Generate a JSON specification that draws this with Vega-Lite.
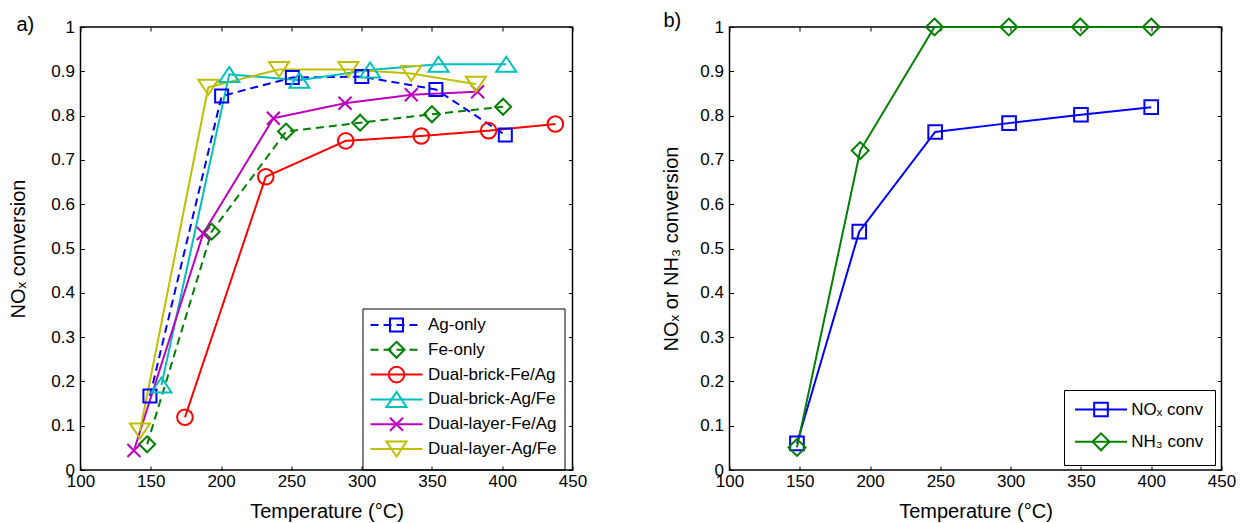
{
  "$schema": "https://vega.github.io/schema/vega-lite/v6.json",
  "padding": {"left": 6.5, "top": 10, "right": 5, "bottom": 5},
  "background": "white",
  "spacing": 157,
  "bounds": "flush",
  "resolve": {"scale": {"color": "independent", "shape": "independent", "strokeDash": "independent"}, "legend": {"color": "independent", "shape": "independent", "strokeDash": "independent"}},
  "datasets": {
    "a": [
      {"series": "Ag-only", "T": 149.4, "conv": 0.167},
      {"series": "Ag-only", "T": 200.4, "conv": 0.844},
      {"series": "Ag-only", "T": 250.7, "conv": 0.886},
      {"series": "Ag-only", "T": 300.1, "conv": 0.888},
      {"series": "Ag-only", "T": 352.8, "conv": 0.859},
      {"series": "Ag-only", "T": 402.2, "conv": 0.756},
      {"series": "Fe-only", "T": 147.4, "conv": 0.058},
      {"series": "Fe-only", "T": 193.3, "conv": 0.538},
      {"series": "Fe-only", "T": 246.2, "conv": 0.764},
      {"series": "Fe-only", "T": 298.9, "conv": 0.784},
      {"series": "Fe-only", "T": 350.0, "conv": 0.803},
      {"series": "Fe-only", "T": 400.6, "conv": 0.820},
      {"series": "Dual-brick-Fe/Ag", "T": 174.3, "conv": 0.119},
      {"series": "Dual-brick-Fe/Ag", "T": 231.8, "conv": 0.662},
      {"series": "Dual-brick-Fe/Ag", "T": 288.7, "conv": 0.743},
      {"series": "Dual-brick-Fe/Ag", "T": 342.4, "conv": 0.754},
      {"series": "Dual-brick-Fe/Ag", "T": 390.3, "conv": 0.766},
      {"series": "Dual-brick-Fe/Ag", "T": 437.8, "conv": 0.781},
      {"series": "Dual-brick-Ag/Fe", "T": 157.6, "conv": 0.192},
      {"series": "Dual-brick-Ag/Fe", "T": 205.8, "conv": 0.893},
      {"series": "Dual-brick-Ag/Fe", "T": 255.7, "conv": 0.880},
      {"series": "Dual-brick-Ag/Fe", "T": 306.0, "conv": 0.903},
      {"series": "Dual-brick-Ag/Fe", "T": 354.7, "conv": 0.916},
      {"series": "Dual-brick-Ag/Fe", "T": 402.9, "conv": 0.916},
      {"series": "Dual-layer-Fe/Ag", "T": 138.0, "conv": 0.044},
      {"series": "Dual-layer-Fe/Ag", "T": 187.3, "conv": 0.534},
      {"series": "Dual-layer-Fe/Ag", "T": 237.2, "conv": 0.794},
      {"series": "Dual-layer-Fe/Ag", "T": 288.2, "conv": 0.828},
      {"series": "Dual-layer-Fe/Ag", "T": 335.3, "conv": 0.847},
      {"series": "Dual-layer-Fe/Ag", "T": 382.5, "conv": 0.854},
      {"series": "Dual-layer-Ag/Fe", "T": 142.3, "conv": 0.088},
      {"series": "Dual-layer-Ag/Fe", "T": 190.9, "conv": 0.864},
      {"series": "Dual-layer-Ag/Fe", "T": 241.2, "conv": 0.904},
      {"series": "Dual-layer-Ag/Fe", "T": 290.6, "conv": 0.904},
      {"series": "Dual-layer-Ag/Fe", "T": 335.3, "conv": 0.895},
      {"series": "Dual-layer-Ag/Fe", "T": 381.3, "conv": 0.871}
    ],
    "b": [
      {"series": "NOₓ conv", "T": 148.0, "conv": 0.060},
      {"series": "NOₓ conv", "T": 192.3, "conv": 0.538},
      {"series": "NOₓ conv", "T": 246.3, "conv": 0.763},
      {"series": "NOₓ conv", "T": 298.9, "conv": 0.783},
      {"series": "NOₓ conv", "T": 350.0, "conv": 0.802},
      {"series": "NOₓ conv", "T": 400.0, "conv": 0.819},
      {"series": "NH₃ conv", "T": 148.0, "conv": 0.051},
      {"series": "NH₃ conv", "T": 193.0, "conv": 0.721},
      {"series": "NH₃ conv", "T": 245.8, "conv": 1.0},
      {"series": "NH₃ conv", "T": 298.7, "conv": 1.0},
      {"series": "NH₃ conv", "T": 349.5, "conv": 1.0},
      {"series": "NH₃ conv", "T": 400.0, "conv": 1.0}
    ]
  },
  "hconcat": [
    {
      "width": 492,
      "height": 443,
      "title": {"text": "a)", "anchor": "start", "frame": "group", "orient": "top", "offset": 0, "dx": -64, "dy": 32.5, "baseline": "alphabetic", "fontSize": 20, "fontWeight": "normal", "font": "Liberation Sans", "color": "#000"},
      "data": {"name": "a"},
      "layer": [
        {
          "mark": {"type": "line", "strokeWidth": 2},
          "encoding": {
            "x": {"field": "T", "type": "quantitative", "scale": {"domain": [100, 450], "nice": false, "zero": false},
              "axis": {"orient": "bottom", "values": [100, 150, 200, 250, 300, 350, 400, 450], "format": "d", "title": "Temperature (°C)", "titleY": 47, "titleBaseline": "alphabetic"}},
            "y": {"field": "conv", "type": "quantitative", "scale": {"domain": [0, 1], "nice": false, "zero": false},
              "axis": {"orient": "left", "values": [0, 0.1, 0.2, 0.3, 0.4, 0.5, 0.6, 0.7, 0.8, 0.9, 1], "format": "~g", "title": "NOₓ conversion", "titleX": -56.5, "titleBaseline": "alphabetic"}},
            "color": {"field": "series", "type": "nominal",
              "scale": {"domain": ["Ag-only", "Fe-only", "Dual-brick-Fe/Ag", "Dual-brick-Ag/Fe", "Dual-layer-Fe/Ag", "Dual-layer-Ag/Fe"], "range": ["#0000FF", "#008000", "#FF0000", "#00BFBF", "#BF00BF", "#BFBF00"]},
              "legend": {"orient": "none", "legendX": 282, "legendY": 281.5, "direction": "vertical", "title": null, "symbolType": "M-4,0L4,0M0,-1.25M0,1.25", "symbolSize": 169, "symbolStrokeWidth": 2, "symbolOffset": 17.5, "labelOffset": 23, "labelFontSize": 17, "labelFont": "Liberation Sans", "labelColor": "#000", "labelLimit": 400, "rowPadding": -0.2, "padding": 8, "strokeColor": "#000"}},
            "strokeDash": {"field": "series", "type": "nominal",
              "scale": {"domain": ["Ag-only", "Fe-only", "Dual-brick-Fe/Ag", "Dual-brick-Ag/Fe", "Dual-layer-Fe/Ag", "Dual-layer-Ag/Fe"], "range": [[8, 5], [8, 5], [1, 0], [1, 0], [1, 0], [1, 0]]},
              "legend": {"orient": "none", "legendX": 282, "legendY": 281.5, "direction": "vertical", "title": null, "symbolType": "M-4,0L4,0M0,-1.25M0,1.25", "symbolSize": 169, "symbolStrokeWidth": 2, "symbolOffset": 17.5, "labelOffset": 23, "labelFontSize": 17, "labelFont": "Liberation Sans", "labelColor": "#000", "labelLimit": 400, "rowPadding": -0.2, "padding": 8, "strokeColor": "#000"}}
          }
        },
        {
          "mark": {"type": "point", "filled": false, "strokeWidth": 2, "size": 169, "opacity": 1},
          "encoding": {
            "x": {"field": "T", "type": "quantitative", "scale": {"domain": [100, 450], "nice": false, "zero": false},
              "axis": {"orient": "top", "values": [100, 150, 200, 250, 300, 350, 400, 450], "labels": false, "title": null}},
            "y": {"field": "conv", "type": "quantitative", "scale": {"domain": [0, 1], "nice": false, "zero": false},
              "axis": {"orient": "right", "values": [0, 0.1, 0.2, 0.3, 0.4, 0.5, 0.6, 0.7, 0.8, 0.9, 1], "labels": false, "title": null}},
            "color": {"field": "series", "type": "nominal",
              "scale": {"domain": ["Ag-only", "Fe-only", "Dual-brick-Fe/Ag", "Dual-brick-Ag/Fe", "Dual-layer-Fe/Ag", "Dual-layer-Ag/Fe"], "range": ["#0000FF", "#008000", "#FF0000", "#00BFBF", "#BF00BF", "#BFBF00"]},
              "legend": {"orient": "none", "legendX": 282, "legendY": 281.5, "direction": "vertical", "title": null, "symbolSize": 169, "symbolStrokeWidth": 2, "symbolOffset": 17.5, "labelOffset": 23, "labelFontSize": 17, "labelFont": "Liberation Sans", "labelOpacity": 0, "labelLimit": 400, "rowPadding": -0.2, "padding": 8}},
            "shape": {"field": "series", "type": "nominal",
              "scale": {"domain": ["Ag-only", "Fe-only", "Dual-brick-Fe/Ag", "Dual-brick-Ag/Fe", "Dual-layer-Fe/Ag", "Dual-layer-Ag/Fe"],
                "range": [
                  "M-4,0M4,0M0,-1.25M0,1.25M-1,-1L1,-1L1,1L-1,1Z",
                  "M-4,0M4,0M0,-1.25M0,1.25M0,-1.23L1.23,0L0,1.23L-1.23,0Z",
                  "M-4,0M4,0M0,-1.25M0,1.25M1.2,0A1.2,1.2,0,1,1,-1.2,0A1.2,1.2,0,1,1,1.2,0Z",
                  "M-4,0M4,0M0,-1.25M0,1.25M0,-1.15L1.54,1.15L-1.54,1.15Z",
                  "M-4,0M4,0M0,-1.25M0,1.25M-1,-1L1,1M-1,1L1,-1",
                  "M-4,0M4,0M0,-1.25M0,1.25M0,1.15L1.54,-1.15L-1.54,-1.15Z"
                ]},
              "legend": {"orient": "none", "legendX": 282, "legendY": 281.5, "direction": "vertical", "title": null, "symbolSize": 169, "symbolStrokeWidth": 2, "symbolOffset": 17.5, "labelOffset": 23, "labelFontSize": 17, "labelFont": "Liberation Sans", "labelOpacity": 0, "labelLimit": 400, "rowPadding": -0.2, "padding": 8}}
          }
        }
      ],
      "resolve": {"axis": {"x": "independent", "y": "independent"}, "legend": {"color": "independent", "shape": "independent", "strokeDash": "independent"}}
    },
    {
      "width": 492,
      "height": 443,
      "title": {"text": "b)", "anchor": "start", "frame": "group", "orient": "top", "offset": 0, "dx": -66, "dy": 32.5, "baseline": "alphabetic", "fontSize": 20, "fontWeight": "normal", "font": "Liberation Sans", "color": "#000"},
      "data": {"name": "b"},
      "layer": [
        {
          "mark": {"type": "line", "strokeWidth": 2},
          "encoding": {
            "x": {"field": "T", "type": "quantitative", "scale": {"domain": [100, 450], "nice": false, "zero": false},
              "axis": {"orient": "bottom", "values": [100, 150, 200, 250, 300, 350, 400, 450], "format": "d", "title": "Temperature (°C)", "titleY": 47, "titleBaseline": "alphabetic"}},
            "y": {"field": "conv", "type": "quantitative", "scale": {"domain": [0, 1], "nice": false, "zero": false},
              "axis": {"orient": "left", "values": [0, 0.1, 0.2, 0.3, 0.4, 0.5, 0.6, 0.7, 0.8, 0.9, 1], "format": "~g", "title": "NOₓ or NH₃ conversion", "titleX": -52, "titleBaseline": "alphabetic"}},
            "color": {"field": "series", "type": "nominal",
              "scale": {"domain": ["NOₓ conv", "NH₃ conv"], "range": ["#0000FF", "#008000"]},
              "legend": {"orient": "none", "legendX": 334.5, "legendY": 363, "direction": "vertical", "title": null, "symbolType": "M-4,0L4,0M0,-1.25M0,1.25", "symbolSize": 169, "symbolStrokeWidth": 2, "symbolOffset": 17.5, "labelOffset": 21.7, "labelFontSize": 17, "labelFont": "Liberation Sans", "labelColor": "#000", "labelLimit": 400, "rowPadding": 7.3, "padding": 11, "strokeColor": "#000"}}
          }
        },
        {
          "mark": {"type": "point", "filled": false, "strokeWidth": 2, "size": 169, "opacity": 1},
          "encoding": {
            "x": {"field": "T", "type": "quantitative", "scale": {"domain": [100, 450], "nice": false, "zero": false},
              "axis": {"orient": "top", "values": [100, 150, 200, 250, 300, 350, 400, 450], "labels": false, "title": null}},
            "y": {"field": "conv", "type": "quantitative", "scale": {"domain": [0, 1], "nice": false, "zero": false},
              "axis": {"orient": "right", "values": [0, 0.1, 0.2, 0.3, 0.4, 0.5, 0.6, 0.7, 0.8, 0.9, 1], "labels": false, "title": null}},
            "color": {"field": "series", "type": "nominal",
              "scale": {"domain": ["NOₓ conv", "NH₃ conv"], "range": ["#0000FF", "#008000"]},
              "legend": {"orient": "none", "legendX": 334.5, "legendY": 363, "direction": "vertical", "title": null, "symbolSize": 169, "symbolStrokeWidth": 2, "symbolOffset": 17.5, "labelOffset": 21.7, "labelFontSize": 17, "labelFont": "Liberation Sans", "labelOpacity": 0, "labelLimit": 400, "rowPadding": 7.3, "padding": 11}},
            "shape": {"field": "series", "type": "nominal",
              "scale": {"domain": ["NOₓ conv", "NH₃ conv"],
                "range": [
                  "M-4,0M4,0M0,-1.25M0,1.25M-1.05,-1.05L1.05,-1.05L1.05,1.05L-1.05,1.05Z",
                  "M-4,0M4,0M0,-1.25M0,1.25M0,-1.3L1.3,0L0,1.3L-1.3,0Z"
                ]},
              "legend": {"orient": "none", "legendX": 334.5, "legendY": 363, "direction": "vertical", "title": null, "symbolSize": 169, "symbolStrokeWidth": 2, "symbolOffset": 17.5, "labelOffset": 21.7, "labelFontSize": 17, "labelFont": "Liberation Sans", "labelOpacity": 0, "labelLimit": 400, "rowPadding": 7.3, "padding": 11}}
          }
        }
      ],
      "resolve": {"axis": {"x": "independent", "y": "independent"}, "legend": {"color": "independent", "shape": "independent"}}
    }
  ],
  "config": {
    "font": "Liberation Sans",
    "view": {"stroke": "#000", "strokeWidth": 1.5},
    "axis": {"grid": false, "domain": false, "ticks": true, "tickColor": "#000", "tickSize": -4, "tickWidth": 1,
      "labelFontSize": 17, "labelColor": "#000", "labelFont": "Liberation Sans", "labelFlush": false, "labelOverlap": false,
      "titleFontSize": 20, "titleFont": "Liberation Sans", "titleFontWeight": "normal", "titleColor": "#000"},
    "axisX": {"labelPadding": 7},
    "axisY": {"labelPadding": 10}
  }
}
